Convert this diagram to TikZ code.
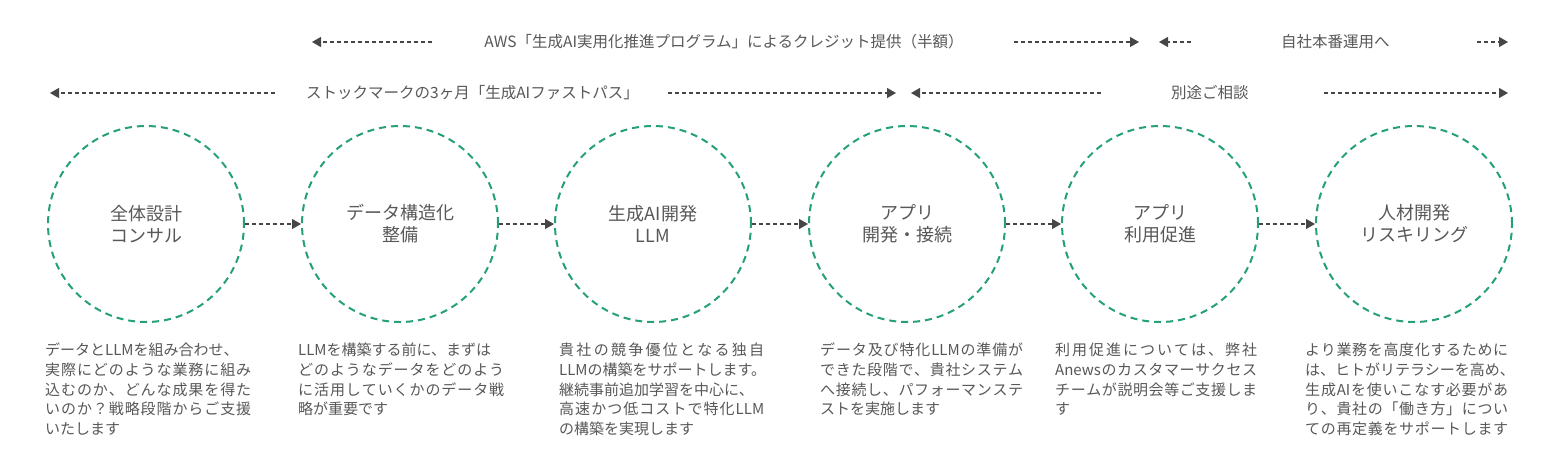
\documentclass[tikz,border=0pt]{standalone}
\usepackage{fontspec}
\setmainfont{Noto Sans CJK JP}
\usetikzlibrary{arrows.meta}
\definecolor{grn}{RGB}{38,160,122}
\definecolor{txt}{RGB}{88,88,88}
\definecolor{arr}{RGB}{70,70,70}
\ExplSyntaxOn
\NewDocumentCommand\spl{mm}{\leavevmode\hbox_to_wd:nn{#1}{\tl_map_inline:nn{#2}{##1\hfil}\unskip}}
\ExplSyntaxOff
\begin{document}
\begin{tikzpicture}[x=1pt,y=-1pt,
  circ/.style={circle, draw=grn, line width=2pt, dash pattern=on 7pt off 5pt,
    minimum size=196pt, inner sep=0pt, align=center, text=txt,
    font=\fontsize{18}{22}\selectfont},
  conn/.style={draw=arr, line width=1.2pt, dash pattern=on 4pt off 3pt,
    -{Triangle[length=9pt,width=10pt,fill=arr]}},
  tl/.style={conn},
  lbl/.style={text=txt, font=\fontsize{15.5}{18}\selectfont, inner sep=0pt, anchor=west},
  desc/.style={text=txt, font=\fontsize{15}{19.6}\selectfont, align=left,
    anchor=north west, inner sep=0pt}]
\fill[white] (0,0) rectangle (1554,451);
\useasboundingbox (0,0) rectangle (1554,451);

% top rows
\node[lbl, anchor=center] (aws) at (724,42) {AWS「生成AI実用化推進プログラム」によるクレジット提供（半額）};
\node[lbl] (own) at (1281,42) {自社本番運用へ};
\node[lbl] (fast) at (306,93) {ストックマークの3ヶ月「生成AIファストパス」};
\node[lbl] (sep) at (1171,93) {別途ご相談};

\coordinate (a1s) at (432,42); \coordinate (a1e) at (312,42);
\coordinate (a2s) at (1014,42); \coordinate (a2e) at (1139,42);
\coordinate (a3s) at (1191,42); \coordinate (a3e) at (1159,42);
\coordinate (a4s) at (1477,42); \coordinate (a4e) at (1508,42);
\coordinate (b1s) at (275,93); \coordinate (b1e) at (50,93);
\coordinate (b2s) at (668,93); \coordinate (b2e) at (896,93);
\coordinate (b3s) at (1101,93); \coordinate (b3e) at (911,93);
\coordinate (b4s) at (1324,93); \coordinate (b4e) at (1508,93);
\foreach \p in {a1,a2,a3,a4,b1,b2,b3,b4} \draw[tl] (\p s) -- (\p e);

% circles
\node[circ] (c1) at (146,224) {全体設計\\コンサル};
\node[circ] (c2) at (400,224) {データ構造化\\整備};
\node[circ] (c3) at (653,224) {生成AI開発\\LLM};
\node[circ] (c4) at (907,224) {アプリ\\開発・接続};
\node[circ] (c5) at (1160,224) {アプリ\\利用促進};
\node[circ] (c6) at (1414,224) {人材開発\\リスキリング};
\draw[conn] (c1) -- (c2);
\draw[conn] (c2) -- (c3);
\draw[conn] (c3) -- (c4);
\draw[conn] (c4) -- (c5);
\draw[conn] (c5) -- (c6);

% descriptions
\node[desc] (d1) at (45,343) {データとLLMを組み合わせ、\\
\spl{206pt}{実際にどのような業務に組み}\\
\spl{206pt}{込むのか、どんな成果を得た}\\
\spl{206pt}{いのか？戦略段階からご支援}\\
いたします};
\node[desc] (d2) at (298,343) {LLMを構築する前に、まずは\\
\spl{206pt}{どのようなデータをどのよう}\\
\spl{206pt}{に活用していくかのデータ戦}\\
略が重要です};
\node[desc] (d3) at (559,343) {\spl{205pt}{貴社の競争優位となる独自}\\
LLMの構築をサポートします。\\
継続事前追加学習を中心に、\\
\spl{205pt}{高速かつ低コストで特化{LLM}}\\
の構築を実現します};
\node[desc] (d4) at (820,343) {\spl{203pt}{データ及び特化{LLM}の準備が}\\
\spl{203pt}{できた段階で、貴社システム}\\
\spl{203pt}{へ接続し、パフォーマンステ}\\
ストを実施します};
\node[desc] (d5) at (1055,343) {\spl{202pt}{利用促進については、弊社}\\
\spl{202pt}{{Anews}のカスタマーサクセス}\\
\spl{202pt}{チームが説明会等ご支援しま}\\
す};
\node[desc] (d6) at (1305,343) {\spl{203pt}{より業務を高度化するために}\\
は、ヒトがリテラシーを高め、\\
\spl{203pt}{生成{AI}を使いこなす必要があ}\\
\spl{203pt}{り、貴社の「働き方」につい}\\
\spl{203pt}{ての再定義をサポートします}};
\end{tikzpicture}
\end{document}
